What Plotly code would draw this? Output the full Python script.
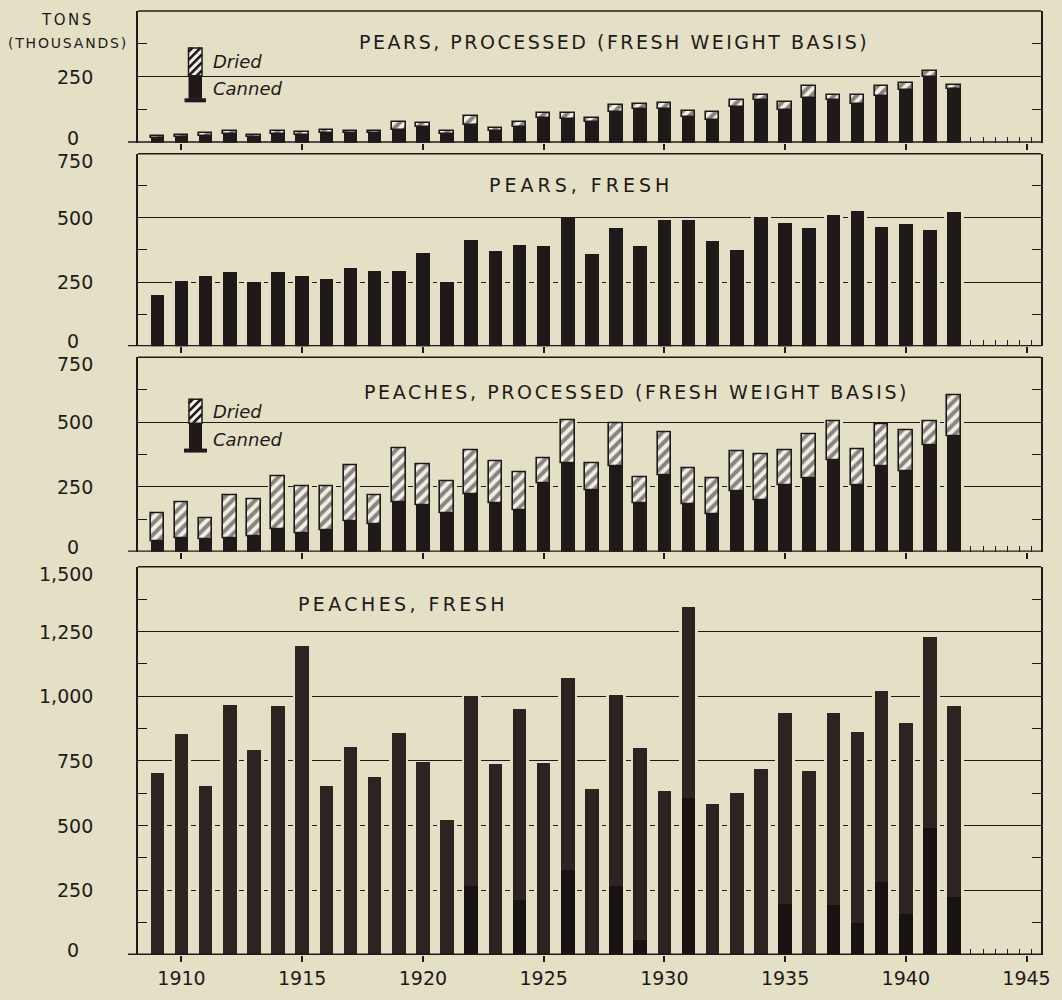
import plotly.graph_objects as go

# ---------------------------------------------------------------- data
years = list(range(1909, 1943))

# Pears, processed (fresh weight basis), thousand tons
pears_canned = [18, 20, 25, 34, 20, 32, 30, 37, 36, 36, 49, 58, 34, 69, 46, 60, 94,
                91, 79, 115, 127, 127, 99, 87, 135, 161, 124, 171, 161, 147, 179,
                202, 250, 204]
pears_dried = [9, 9, 11, 11, 9, 11, 10, 11, 9, 9, 28, 15, 11, 33, 11, 17, 18, 21,
               14, 29, 20, 23, 23, 29, 26, 21, 29, 43, 21, 35, 38, 24, 22, 17]

# Pears, fresh
pears_fresh = [202, 254, 273, 290, 251, 290, 273, 262, 307, 293, 294, 363, 251,
               415, 374, 394, 393, 499, 361, 460, 393, 492, 492, 410, 378, 503,
               481, 460, 512, 528, 466, 477, 454, 524]

# Peaches, processed (fresh weight basis)
peaches_canned = [42, 54, 48, 51, 60, 89, 73, 85, 117, 108, 191, 179, 149, 221,
                  189, 159, 265, 342, 236, 329, 186, 297, 182, 144, 235, 199, 256,
                  282, 353, 256, 331, 310, 410, 445]
peaches_dried = [105, 136, 80, 166, 144, 201, 178, 168, 217, 109, 208, 159, 123,
                 171, 159, 146, 96, 167, 106, 167, 100, 165, 142, 141, 153, 178,
                 135, 171, 151, 141, 161, 157, 95, 158]

# Peaches, fresh: total and the darker lower portion of the bar
peaches_fresh = [703, 854, 655, 967, 792, 963, 1195, 652, 804, 688, 860, 748, 523,
                 1002, 738, 950, 744, 1070, 642, 1006, 799, 635, 1344, 584, 626,
                 719, 936, 713, 936, 863, 1021, 899, 1231, 961]
peaches_fresh_lower = [0, 0, 0, 0, 0, 0, 0, 0, 0, 0, 0, 0, 0, 266, 0, 215, 0, 330,
                       0, 268, 59, 0, 606, 0, 0, 0, 197, 0, 195, 126, 284, 159, 491,
                       223]

x_major_ticks = list(range(1910, 1946, 5))
x_minor_ticks = [1942.7, 1943.2, 1943.7, 1944.2, 1944.7, 1945.2]

# ---------------------------------------------------------------- style
BG = "#e4e0c5"
INK = "#1f1a19"
INK_UPPER = "#2b2421"
INK_LOWER = "#181312"
HATCH_BG = "#f1efe4"
FONT = "DejaVu Sans"

W, H = 1062, 1000
L, R, T, B = 138, 21, 11, 43
PW, PH = W - L - R, H - T - B


def px_x(px):
    return (px - L) / PW


def px_y(py):
    return (H - B - py) / PH


panels = [
    dict(top=500, pix=(11, 143), labels=[0, 250], grid=[250], ticks=[125, 375]),
    dict(top=750, pix=(154, 347), labels=[0, 250, 500, 750], grid=[250, 500],
         ticks=[125, 375, 625]),
    dict(top=750, pix=(358, 553), labels=[0, 250, 500, 750], grid=[250, 500],
         ticks=[125, 375, 625]),
    dict(top=1500, pix=(568, 957), labels=list(range(0, 1501, 250)),
         grid=list(range(250, 1251, 250)), ticks=list(range(125, 1500, 250))),
]

fig = go.Figure()


def axn(i):
    return "" if i == 1 else str(i)


def bar(i, y, base=None, width=0.56, color=INK):
    fig.add_trace(go.Bar(x=years, y=y, base=base, width=width,
                         marker=dict(color=color, line=dict(width=0)),
                         xaxis="x" + axn(i), yaxis="y" + axn(i),
                         hoverinfo="skip", showlegend=False))


def hatched(i, y, base):
    fig.add_trace(go.Bar(
        x=years, y=y, base=base, width=0.56,
        marker=dict(color=HATCH_BG,
                    pattern=dict(shape="/", fgcolor=INK, bgcolor=HATCH_BG,
                                 size=8, solidity=0.5),
                    line=dict(color=INK, width=1.6)),
        xaxis="x" + axn(i), yaxis="y" + axn(i),
        hoverinfo="skip", showlegend=False))


def totals(a, b):
    return [p + q for p, q in zip(a, b)]


# background halos keep the rules clear of the bars
HALO = 0.8

# panel 1: pears processed
bar(1, totals(pears_canned, pears_dried), width=HALO, color=BG)
bar(1, pears_canned)
hatched(1, pears_dried, pears_canned)

# panel 2: pears fresh
bar(2, pears_fresh, width=HALO, color=BG)
bar(2, pears_fresh)

# panel 3: peaches processed
bar(3, totals(peaches_canned, peaches_dried), width=HALO, color=BG)
bar(3, peaches_canned)
hatched(3, peaches_dried, peaches_canned)

# panel 4: peaches fresh
bar(4, peaches_fresh, width=HALO, color=BG)
bar(4, peaches_fresh_lower, color=INK_LOWER)
bar(4, [t - b for t, b in zip(peaches_fresh, peaches_fresh_lower)],
    base=peaches_fresh_lower, color=INK_UPPER)

# ---------------------------------------------------------------- axes
layout = dict(
    width=W, height=H, margin=dict(l=L, r=R, t=T, b=B),
    paper_bgcolor=BG, plot_bgcolor=BG, barmode="overlay", bargap=0,
    font=dict(family=FONT, color=INK, size=19),
    showlegend=False,
)

shapes = []
annotations = []

for i, p in enumerate(panels, start=1):
    n = axn(i)
    top_px, bot_px = p["pix"]
    layout["xaxis" + n] = dict(
        domain=[0, 1], anchor="y" + n, range=[1908.2, 1945.6],
        matches=None if i == 1 else "x",
        showline=False, showgrid=False, zeroline=False,
        tickmode="array", tickvals=x_major_ticks,
        ticktext=[str(v) for v in x_major_ticks],
        ticks="outside", ticklen=6, tickwidth=1.6, tickcolor=INK,
        showticklabels=(i == 4),
        tickfont=dict(family=FONT, size=19, color=INK),
        minor=dict(tickmode="array", tickvals=x_minor_ticks, ticks="inside",
                   ticklen=6, tickwidth=1.3, tickcolor=INK, showgrid=False),
    )
    layout["yaxis" + n] = dict(
        domain=[px_y(bot_px), px_y(top_px)], anchor="x" + n,
        range=[0, p["top"]], showgrid=False, zeroline=False,
        showline=True, linecolor=INK, linewidth=1.5, mirror="ticks",
        tickmode="array", tickvals=p["ticks"], ticks="inside", ticklen=9,
        tickwidth=1.4, tickcolor=INK, showticklabels=False,
        minor=dict(tickmode="array", tickvals=p["grid"], ticks="",
                   showgrid=True, gridcolor=INK, gridwidth=1.4),
    )
    # frame and heavy base rule
    shapes.append(dict(type="line", xref="x" + n + " domain", yref="y" + n + " domain",
                       x0=0, x1=1, y0=1, y1=1, line=dict(color=INK, width=1.5),
                       layer="above"))
    shapes.append(dict(type="line", xref="x" + n + " domain", yref="y" + n,
                       x0=-0.011, x1=1, y0=0, y1=0, line=dict(color=INK, width=2.8),
                       layer="above"))
    # value labels on the left
    for v in p["labels"]:
        txt = f"{v:,}"
        if v == 0:
            annotations.append(dict(xref="paper", yref="y" + n, x=px_x(73), y=0,
                                    text=txt, showarrow=False, xanchor="center",
                                    yanchor="middle", yshift=5,
                                    font=dict(size=19)))
        else:
            shift = -7 if v == p["top"] else 0
            annotations.append(dict(xref="paper", yref="y" + n, x=px_x(95), y=v,
                                    text=txt, showarrow=False, xanchor="right",
                                    yanchor="middle", yshift=shift,
                                    font=dict(size=19)))


def spaced(text, px):
    return f"<span style='letter-spacing:{px}px'>{text}</span>"


titles = [
    ("PEARS, PROCESSED (FRESH WEIGHT BASIS)", 614, 42, 2.5),
    ("PEARS, FRESH", 581, 185, 4.0),
    ("PEACHES, PROCESSED (FRESH WEIGHT BASIS)", 636, 393, 2.6),
    ("PEACHES, FRESH", 403, 605, 3.4),
]
for text, cx, cy, ls in titles:
    annotations.append(dict(xref="paper", yref="paper", x=px_x(cx), y=px_y(cy),
                            text=spaced(text, ls), showarrow=False,
                            xanchor="center", yanchor="middle",
                            font=dict(size=19, color=INK)))

annotations.append(dict(xref="paper", yref="paper", x=px_x(67), y=px_y(20),
                        text=spaced("TONS", 2.5), showarrow=False,
                        xanchor="center", yanchor="middle", font=dict(size=15)))
annotations.append(dict(xref="paper", yref="paper", x=px_x(68), y=px_y(43),
                        text=spaced("(THOUSANDS)", 1.8), showarrow=False,
                        xanchor="center", yanchor="middle", font=dict(size=14)))


# key glyphs for the processed panels
def key(hx0, hx1, hy0, hy1, sy1, fx0, fx1, text_y1, text_y2, clear):
    # clear the rule behind the key
    shapes.append(dict(type="rect", xref="paper", yref="paper",
                       x0=px_x(clear[0]), x1=px_x(clear[1]),
                       y0=px_y(clear[3]), y1=px_y(clear[2]),
                       fillcolor=BG, line=dict(width=0), layer="between"))
    shapes.append(dict(type="rect", xref="paper", yref="paper",
                       x0=px_x(hx0), x1=px_x(hx1), y0=px_y(sy1), y1=px_y(hy1),
                       fillcolor=INK, line=dict(width=0), layer="above"))
    shapes.append(dict(type="rect", xref="paper", yref="paper",
                       x0=px_x(fx0), x1=px_x(fx1), y0=px_y(sy1 + 3.5), y1=px_y(sy1 - 0.5),
                       fillcolor=INK, line=dict(width=0), layer="above"))
    shapes.append(dict(type="rect", xref="paper", yref="paper",
                       x0=px_x(hx0), x1=px_x(hx1), y0=px_y(hy1), y1=px_y(hy0),
                       fillcolor=HATCH_BG, line=dict(color=INK, width=1.5),
                       layer="above"))
    step = 8
    c = hx0 + hy0 + 4
    while c < hx1 + hy1:
        xa = max(hx0, c - hy1)
        xb = min(hx1, c - hy0)
        if xb - xa > 1:
            shapes.append(dict(type="line", xref="paper", yref="paper",
                               x0=px_x(xa), y0=px_y(c - xa),
                               x1=px_x(xb), y1=px_y(c - xb),
                               line=dict(color=INK, width=2.6), layer="above"))
        c += step
    annotations.append(dict(xref="paper", yref="paper", x=px_x(211), y=px_y(text_y1),
                            text="Dried", showarrow=False, xanchor="left",
                            yanchor="middle",
                            font=dict(size=18, style="italic", color=INK)))
    annotations.append(dict(xref="paper", yref="paper", x=px_x(211), y=px_y(text_y2),
                            text="Canned", showarrow=False, xanchor="left",
                            yanchor="middle",
                            font=dict(size=18, style="italic", color=INK)))


key(188.5, 202, 48, 76, 99, 184.5, 206, 62, 89, clear=(174, 286, 70, 84))
key(189, 202, 400, 424, 450, 184, 207, 412, 440, clear=(174, 284, 418, 432))

layout["shapes"] = shapes
layout["annotations"] = annotations
fig.update_layout(**layout)

fig.write_html("out.html")
